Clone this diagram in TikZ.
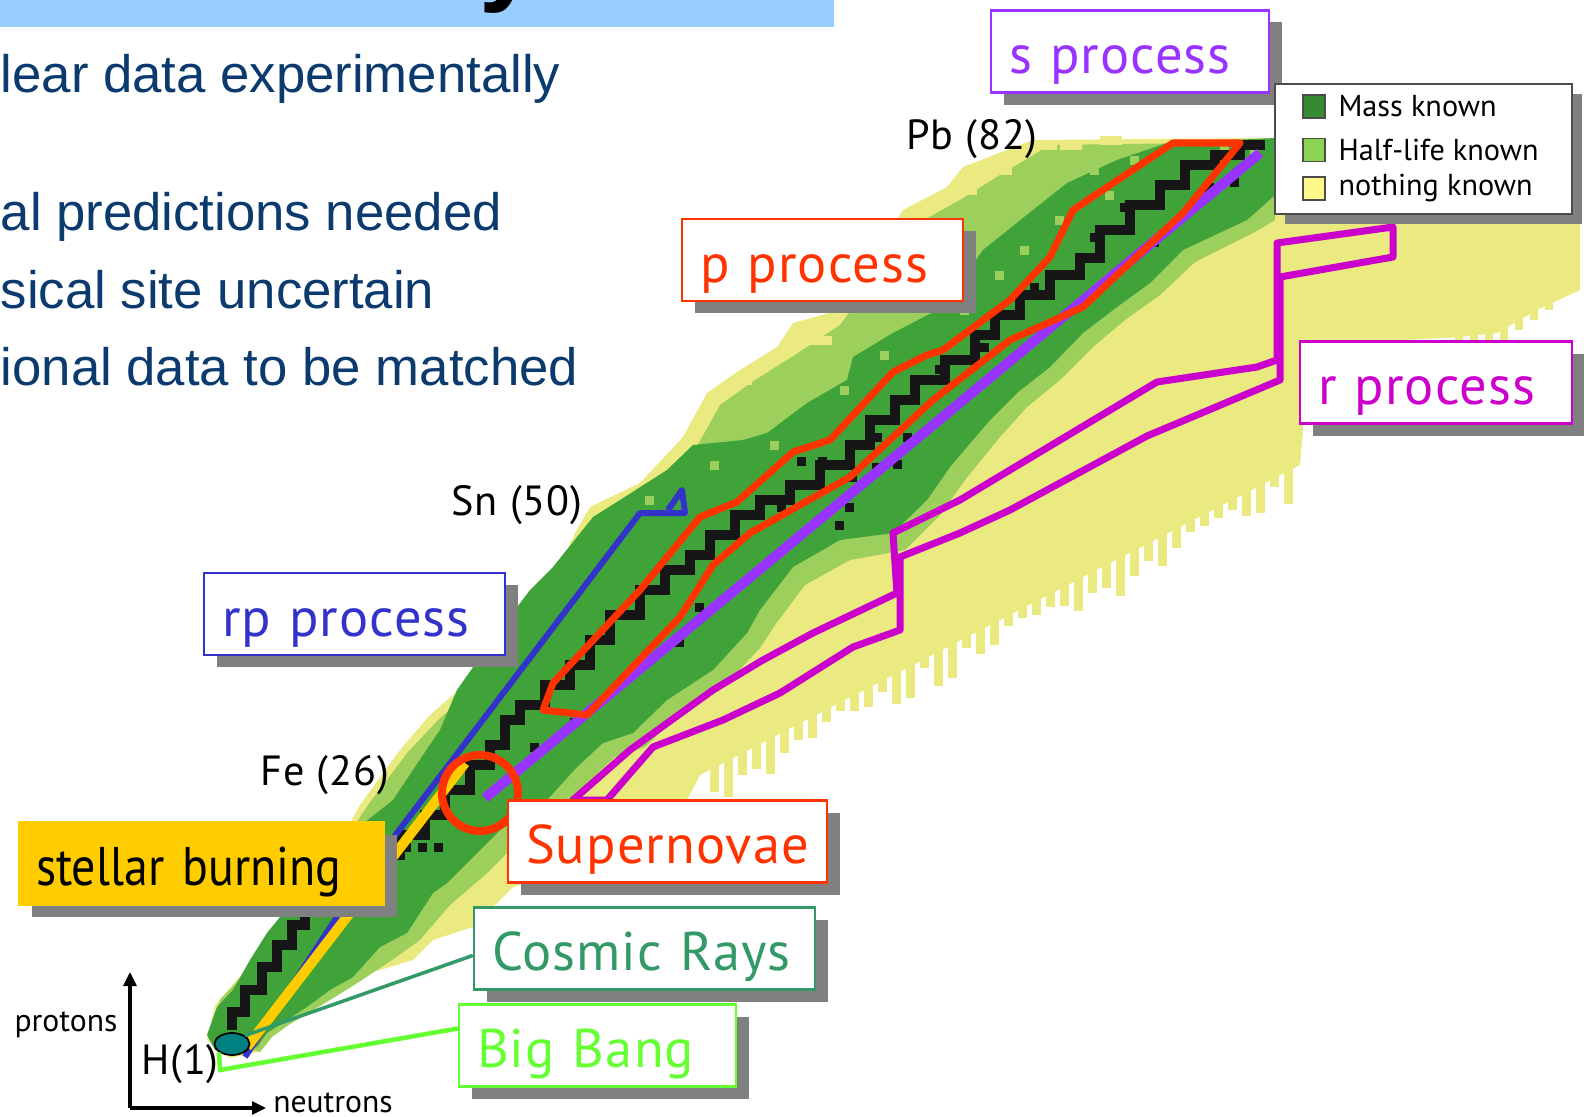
\documentclass[tikz,border=0pt]{standalone}
\usepackage{fontspec}
\setmainfont{Liberation Sans}
\newfontfamily\chartfont{PT Sans}
\newfontfamily\trackfont[LetterSpace=2]{PT Sans}
\newfontfamily\narrowfont[FakeStretch=0.88]{PT Sans}
\usepackage{xcolor}
\definecolor{sky}{HTML}{99CCFF}
\definecolor{ink}{HTML}{0B3A6E}
\definecolor{leaf}{HTML}{3FA33A}
\definecolor{sprout}{HTML}{9CCF5C}
\definecolor{straw}{HTML}{EAEA80}
\definecolor{coal}{HTML}{161616}
\definecolor{shade}{HTML}{808080}
\definecolor{scarlet}{HTML}{FF3300}
\definecolor{grape}{HTML}{9933FF}
\definecolor{orchid}{HTML}{CC00CC}
\definecolor{cobalt}{HTML}{3333CC}
\definecolor{amber}{HTML}{FFCC00}
\definecolor{jade}{HTML}{339966}
\definecolor{neon}{HTML}{66FF33}
\definecolor{deepsea}{HTML}{008080}
\usepackage{tikz}
\usetikzlibrary{arrows.meta,positioning,shapes.geometric,shadows,calc}

\begin{document}
\begin{tikzpicture}[x=1cm,y=1cm,
  procbox/.style={draw=#1, text=#1, fill=white, line width=0.7pt, align=left,
    inner xsep=0.18cm, inner ysep=0pt, minimum height=0.82cm,
    text height=0.56cm, text depth=0.12cm,
    font=\trackfont\fontsize{15.5}{18}\selectfont,
    drop shadow={shadow xshift=0.13cm, shadow yshift=-0.12cm, fill=shade, opacity=1}},
  isolab/.style={font=\trackfont\fontsize{12}{14}\selectfont, inner sep=0pt},
  axislab/.style={font=\chartfont\fontsize{9}{11}\selectfont, inner sep=0pt},
  legtext/.style={font=\chartfont\fontsize{8.6}{10}\selectfont, inner sep=0pt, anchor=west},
  swatch/.style={draw=black!70, line width=0.5pt, minimum width=0.22cm, minimum height=0.23cm, inner sep=0pt},
  bullet/.style={font=\fontsize{15}{18}\selectfont, text=ink, inner sep=0pt, anchor=base west},
  stable/.style={coal, line width=0.10cm},
  procline/.style={line width=#1, line join=round}]
  \useasboundingbox (0,0) rectangle (15.84,-11.17);

  % title strip (cut off)
  \fill[sky] (0,0) rectangle (8.34,-0.27);
  \begin{scope}
    \clip (0,0) rectangle (8.34,-0.27);
    \node[font=\bfseries\fontsize{30}{32}\selectfont, inner sep=0pt, anchor=base west] (ttl) at (4.79,0.09) {y};
  \end{scope}

  % bullet text (cut off at the left)
  \node[bullet] (txexp) at (0,-0.93) {lear data experimentally};
  \node[bullet] (txpred) at (0,-2.30) {al predictions needed};
  \node[bullet] (txsite) at (0,-3.08) {sical site uncertain};
  \node[bullet] (txobs) at (0,-3.85) {ional data to be matched};

  % chart: nothing known
  \fill[straw] (2.07,-10.40) -- (2.15,-10.05) -- (2.50,-9.65) -- (2.90,-9.10) -- (3.30,-8.60)
    -- (3.60,-8.05) -- (4.00,-7.50) -- (4.30,-7.15) -- (4.70,-6.80) -- (5.20,-6.40) -- (5.45,-5.95)
    -- (5.65,-5.55) -- (5.75,-5.33) -- (5.90,-5.07) -- (6.40,-4.83) -- (6.83,-4.37) -- (7.07,-3.93)
    -- (7.40,-3.70) -- (7.77,-3.47) -- (7.93,-3.23) -- (8.40,-3.10) -- (9.03,-2.10) -- (9.47,-1.87)
    -- (9.63,-1.67) -- (10.33,-1.40) -- (12.75,-1.38) -- (12.75,-2.00) -- (15.80,-2.05) -- (15.80,-2.90)
    -- (15.37,-3.10) -- (14.97,-3.33) -- (14.60,-3.37) -- (13.10,-3.45) -- (13.00,-4.65) -- (7.00,-7.75)
    -- (6.87,-8.00) -- (6.20,-8.05) -- (5.20,-8.85) -- (5.13,-8.87) -- (4.73,-9.27) -- (4.33,-9.40)
    -- (4.13,-9.60) -- (3.57,-9.77) -- (3.35,-9.95) -- (3.10,-10.10) -- (2.90,-10.22) -- (2.70,-10.36)
    -- (2.58,-10.52) -- (2.30,-10.58) -- cycle;
  % ragged neutron-rich edge
  \foreach \x in {7.10,7.24,...,12.90}{
    \pgfmathsetmacro\ye{-7.75+0.5167*(\x-7.00)}
    \pgfmathsetmacro\len{0.06+0.30*abs(sin(\x*411))*abs(cos(\x*97))}
    \fill[straw] (\x,\ye+0.30) rectangle (\x+0.09,\ye-\len);
  }
  \foreach \x/\ly in {14.55/-3.52,14.70/-3.48,14.85/-3.44,15.00/-3.40,15.15/-3.30,15.30/-3.20,15.45/-3.10,15.60/-3.00}
    \fill[straw] (\x,-3.00) rectangle (\x+0.08,\ly);

  % chart: half-life known
  \fill[sprout] (2.10,-10.38) -- (2.20,-10.00) -- (2.55,-9.62) -- (2.95,-9.05) -- (3.35,-8.55)
    -- (3.68,-8.05) -- (4.08,-7.52) -- (4.38,-7.20) -- (4.78,-6.86) -- (5.28,-6.46) -- (5.55,-6.00)
    -- (5.78,-5.55) -- (6.05,-5.20) -- (6.55,-4.95) -- (6.95,-4.50) -- (7.20,-4.05) -- (7.55,-3.80)
    -- (7.95,-3.55) -- (8.40,-3.25) -- (9.15,-2.25) -- (9.60,-2.00) -- (10.00,-1.75) -- (10.50,-1.45)
    -- (12.75,-1.42) -- (12.75,-2.20) -- (12.55,-2.32) -- (11.95,-2.62) -- (11.60,-2.95) -- (11.25,-3.20)
    -- (10.93,-3.47) -- (10.60,-3.80) -- (10.27,-4.07) -- (10.00,-4.37) -- (9.65,-4.80) -- (9.40,-5.15)
    -- (9.05,-5.50) -- (8.50,-5.60) -- (8.05,-5.85) -- (7.75,-6.25) -- (7.60,-6.48) -- (7.25,-6.85)
    -- (6.80,-7.13) -- (6.45,-7.47) -- (6.15,-7.57) -- (5.90,-7.80) -- (5.60,-8.12) -- (5.15,-8.45)
    -- (4.85,-8.75) -- (4.50,-9.05) -- (4.20,-9.40) -- (3.95,-9.58) -- (3.62,-9.80) -- (3.35,-9.97)
    -- (3.10,-10.12) -- (2.90,-10.24) -- (2.72,-10.37) -- (2.60,-10.52) -- cycle;
  % a few unknown cells on the proton-rich side
  \foreach \cx/\cy in {9.30/-2.05,9.55/-1.95,9.90/-1.75,10.35/-1.50,7.30/-3.85,6.60/-4.75,
      5.70/-5.50,8.10/-3.45,10.60/-1.50,11.00/-1.45}
    \fill[straw] (\cx,\cy) rectangle ++(0.22,0.09);

  % chart: mass known
  \fill[leaf] (2.07,-10.35) -- (2.17,-10.07) -- (2.33,-9.90) -- (2.50,-9.60) -- (2.67,-9.33)
    -- (2.80,-9.17) -- (2.90,-8.87) -- (3.30,-8.50) -- (3.93,-8.00) -- (4.13,-7.70) -- (4.40,-7.30)
    -- (4.57,-6.90) -- (4.90,-6.43) -- (5.30,-5.90) -- (5.53,-5.67) -- (5.93,-5.17) -- (6.20,-5.00)
    -- (6.67,-4.70) -- (6.93,-4.45) -- (7.43,-4.40) -- (7.67,-4.33) -- (8.07,-4.03) -- (8.47,-3.80)
    -- (8.53,-3.57) -- (8.93,-3.33) -- (9.43,-3.07) -- (9.83,-2.50) -- (10.33,-2.10) -- (10.67,-1.83)
    -- (11.17,-1.60) -- (11.67,-1.43) -- (12.75,-1.38) -- (12.75,-1.95) -- (12.47,-2.20) -- (11.83,-2.50)
    -- (11.50,-2.83) -- (11.17,-3.07) -- (10.83,-3.33) -- (10.50,-3.67) -- (10.17,-3.93) -- (9.90,-4.20)
    -- (9.50,-4.67) -- (9.27,-5.00) -- (8.93,-5.33) -- (8.40,-5.40) -- (7.93,-5.67) -- (7.60,-6.10)
    -- (7.47,-6.33) -- (7.13,-6.70) -- (6.67,-7.00) -- (6.33,-7.33) -- (6.03,-7.43) -- (5.77,-7.67)
    -- (5.47,-8.00) -- (5.00,-8.30) -- (4.70,-8.60) -- (4.47,-8.83) -- (4.33,-8.93) -- (4.20,-9.13)
    -- (4.07,-9.33) -- (3.80,-9.47) -- (3.53,-9.77) -- (3.30,-9.90) -- (3.07,-10.07) -- (2.87,-10.20)
    -- (2.67,-10.33) -- (2.57,-10.47) -- (2.40,-10.52) -- (2.15,-10.50) -- cycle;
  % half-life cells inside the known band
  \foreach \cx/\cy in {10.90/-1.75,11.30/-1.65,11.05/-2.00,10.55/-2.25,10.20/-2.55,9.95/-2.80,
      9.60/-3.15,8.80/-3.60,8.40/-3.95,7.70/-4.50,7.10/-4.70,6.45/-5.05,12.50/-1.55,12.20/-1.52}
    \fill[sprout] (\cx,\cy) rectangle ++(0.09,0.09);

  % stable valley
  \draw[stable] (2.32,-10.30) |- (2.45,-10.12) |- (2.62,-9.90) |- (2.77,-9.67) |- (2.92,-9.45)
    |- (3.05,-9.25) |- (3.20,-9.05) |- (3.55,-8.80) |- (4.00,-8.55) |- (4.25,-8.35) |- (4.45,-8.15)
    |- (4.70,-7.90) |- (4.90,-7.65) |- (5.05,-7.45) |- (5.20,-7.20) |- (5.45,-7.05) |- (5.70,-6.85)
    |- (5.90,-6.65) |- (6.10,-6.40) |- (6.40,-6.15) |- (6.65,-5.90) |- (6.90,-5.70) |- (7.10,-5.55)
    |- (7.35,-5.35) |- (7.60,-5.15) |- (7.90,-5.00) |- (8.20,-4.85) |- (8.50,-4.65) |- (8.70,-4.45)
    |- (8.95,-4.20) |- (9.15,-4.00) |- (9.45,-3.80) |- (9.75,-3.60) |- (9.95,-3.35) |- (10.20,-3.15)
    |- (10.50,-2.95) |- (10.80,-2.75) |- (11.00,-2.58) |- (11.30,-2.30) |- (11.60,-2.05)
    |- (11.85,-1.85) |- (12.15,-1.65) |- (12.40,-1.55) |- (12.65,-1.45);
  \foreach \cx/\cy in {4.02/-8.52,4.18/-8.52,4.34/-8.52,7.97/-4.66,8.18/-4.66,8.48/-4.82,
      8.72/-4.72,8.93/-4.69,8.73/-4.42,9.03/-4.42,8.45/-5.12,8.35/-5.30,7.77/-5.12,9.35/-3.74,
      9.80/-3.52,10.30/-2.92,10.90/-2.42,11.20/-2.12,11.50/-2.47,12.05/-1.92,12.30/-1.87,
      6.75/-6.47,6.95/-6.12,5.30/-7.52,5.70/-7.27}
    \fill[coal] (\cx,\cy) rectangle ++(0.09,0.09);

  % process paths
  \draw[procline=0.06cm, cobalt] (2.45,-10.57) -- (3.37,-9.17) -- (3.97,-8.33) -- (6.40,-5.13)
    -- (6.85,-5.13) -- (6.82,-4.90) -- (6.68,-5.10);
  \draw[procline=0.10cm, amber] (2.47,-10.47) -- (4.65,-7.63);
  \draw[procline=0.10cm, grape] (4.85,-7.98) -- (12.60,-1.53);
  \draw[procline=0.07cm, scarlet] (5.43,-7.10) -- (5.53,-6.83) -- (6.40,-5.90) -- (7.00,-5.17)
    -- (7.37,-5.02) -- (7.93,-4.52) -- (8.30,-4.40) -- (8.93,-3.72) -- (9.27,-3.55) -- (9.43,-3.50)
    -- (10.10,-3.00) -- (10.50,-2.57) -- (10.73,-2.10) -- (11.73,-1.43) -- (12.40,-1.43)
    -- (11.83,-2.13) -- (10.83,-3.07) -- (10.10,-3.40) -- (9.33,-4.00) -- (8.50,-4.77) -- (7.50,-5.33)
    -- (7.13,-5.65) -- (6.80,-6.17) -- (5.87,-7.15) -- cycle;
  \draw[procline=0.07cm, orchid] (5.73,-8.00) -- (6.30,-7.50) -- (7.13,-6.90) -- (7.63,-6.60)
    -- (8.13,-6.33) -- (8.97,-5.93) -- (8.93,-5.33) -- (9.60,-5.00) -- (10.10,-4.70) -- (11.57,-3.82)
    -- (12.57,-3.67) -- (12.77,-3.60) -- (12.77,-2.43) -- (13.93,-2.27) -- (13.93,-2.57) -- (12.80,-2.77)
    -- (12.80,-3.80) -- (11.47,-4.36) -- (10.10,-5.10) -- (9.60,-5.33) -- (9.00,-5.57) -- (9.00,-6.30)
    -- (8.53,-6.47) -- (7.80,-6.93) -- (7.23,-7.20) -- (6.53,-7.47) -- (6.07,-8.00) -- cycle;
  \draw[scarlet, line width=0.08cm] (4.80,-7.93) circle (0.38);

  % element labels
  \node[isolab] (pb) at (9.72,-1.39) {Pb (82)};
  \node[isolab] (sn) at (5.17,-5.05) {Sn (50)};
  \node[isolab] (fe) at (3.25,-7.75) {Fe (26)};
  \node[isolab] (hlab) at (1.80,-10.64) {H(1)};
  \node[draw=black, fill=deepsea, ellipse, line width=0.5pt, minimum width=0.35cm,
    minimum height=0.22cm, inner sep=0pt] (hcore) at (2.32,-10.44) {};

  % process boxes
  \node[procbox=grape, text width=2.42cm] (sproc) at (11.30,-0.515) {s process};
  \node[procbox=scarlet, text width=2.45cm] (pproc) at (8.225,-2.60) {p process};
  \node[procbox=orchid, text width=2.36cm] (rproc) at (14.36,-3.825) {r process};
  \node[procbox=cobalt, text width=2.65cm] (rpproc) at (3.545,-6.14) {rp process};
  \node[procbox=amber, fill=amber, text=black, inner xsep=0.17cm, text width=3.31cm,
    font=\narrowfont\fontsize{15.5}{18}\selectfont] (stellar) at (2.015,-8.635) {stellar burning};
  \node[procbox=scarlet, text width=2.83cm] (snova) at (6.675,-8.415) {Supernovae};
  \node[procbox=jade, text width=3.05cm] (cosmic) at (6.445,-9.485) {Cosmic Rays};
  \node[procbox=neon, text width=2.41cm] (bigbang) at (5.975,-10.455) {Big Bang};

  % origin links
  \coordinate (bbfoot) at (2.20,-10.70);
  \draw[jade, line width=1pt] (hcore.north east) -- ([yshift=-0.07cm]cosmic.west);
  \draw[neon, line width=1.3pt] (hcore.south west) -- (bbfoot) -- ([yshift=0.17cm]bigbang.west);

  % legend
  \node[draw=black!70, fill=white, line width=0.6pt, minimum width=2.97cm, minimum height=1.30cm,
    drop shadow={shadow xshift=0.10cm, shadow yshift=-0.10cm, fill=shade, opacity=1}] (legend) at (14.235,-1.49) {};
  \node[swatch, fill=leaf!85!black] (swmass) at (13.14,-1.065) {};
  \node[swatch, fill=sprout!90!green] (swhalf) at (13.14,-1.50) {};
  \node[swatch, fill=yellow!45] (swnone) at (13.14,-1.885) {};
  \node[legtext] (txmass) at ([xshift=0.12cm]swmass.east) {Mass known};
  \node[legtext] (txhalf) at ([xshift=0.12cm]swhalf.east) {Half-life known};
  \node[legtext] (txnone) at ([xshift=0.12cm]swnone.east) {nothing known};

  % axes
  \coordinate (orig) at (1.30,-11.08);
  \coordinate (ptop) at (1.30,-9.72);
  \coordinate (nend) at (2.66,-11.08);
  \draw[-{Triangle[length=0.14cm,width=0.13cm]}, line width=0.9pt] (orig) -- (ptop);
  \draw[-{Triangle[length=0.14cm,width=0.13cm]}, line width=0.9pt] (orig) -- (nend);
  \node[axislab] (prot) at (0.66,-10.25) {protons};
  \node[axislab] (neut) at (3.33,-11.03) {neutrons};
\end{tikzpicture}
\end{document}
